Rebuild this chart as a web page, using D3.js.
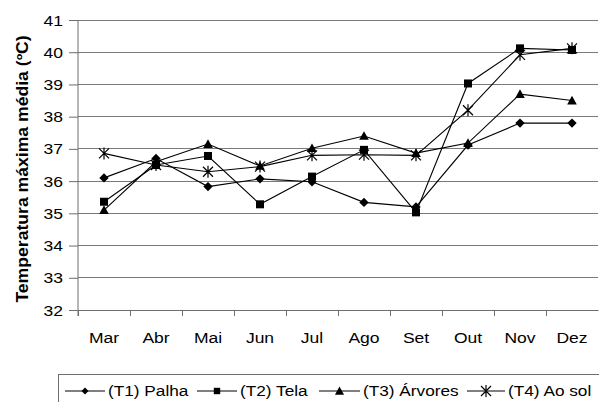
<!DOCTYPE html>
<html><head><meta charset="utf-8">
<script src="https://cdn.jsdelivr.net/npm/d3@7"></script>
<style>body{margin:0;background:#fff;}svg{display:block;font-family:"Liberation Sans",Arial,sans-serif;}</style>
</head><body>
<svg id="c" width="599" height="402"></svg>
<script>
const months = ["Mar","Abr","Mai","Jun","Jul","Ago","Set","Out","Nov","Dez"];
const t1 = [36.1,36.7,35.83,36.07,35.98,35.34,35.2,37.12,37.8,37.8];
const t2 = [35.36,36.5,36.78,35.28,36.14,36.97,35.03,39.03,40.12,40.07];
const t3 = [35.1,36.6,37.15,36.47,37.02,37.4,36.87,37.18,38.7,38.5];
const t4 = [36.86,36.5,36.29,36.45,36.8,36.82,36.8,38.2,39.92,40.12];
const seriesNames = ["(T1) Palha","(T2) Tela","(T3) Árvores","(T4) Ao sol"];
const markers = ["diamond","square","triangle","star"];
const yTicks = [32,33,34,35,36,37,38,39,40,41];
const yLabel = "Temperatura máxima média (ºC)";

const FONT = "Liberation Sans, Arial, sans-serif";
const svg = d3.select("#c");
const L=78, R=598, T=20, B=310;
const x = d3.scaleBand().domain(months).range([L,R]);
const y = d3.scaleLinear().domain([32,41]).range([B,T]);

function stretch(sel,k){
  sel.each(function(){
    const w=this.getComputedTextLength();
    d3.select(this).attr("textLength",w*k).attr("lengthAdjust","spacingAndGlyphs");
  });
}

// gridlines
svg.append("g").selectAll("line").data(yTicks.filter(d=>d>32)).join("line")
  .attr("x1",L).attr("x2",R).attr("y1",d=>y(d)).attr("y2",d=>y(d))
  .attr("stroke","#7a7a7a").attr("stroke-width",1).attr("shape-rendering","crispEdges");

// y axis
const ya = svg.append("g").attr("transform",`translate(${L},0)`)
  .call(d3.axisLeft(y).tickValues(yTicks).tickSize(9).tickPadding(6).tickFormat(d3.format("d")));
ya.select(".domain").attr("stroke","#6e6e6e").attr("d",`M0,${B+6}V${T}`);
ya.selectAll(".tick line").attr("stroke","#6e6e6e");
ya.selectAll("text").attr("font-size",14).attr("fill","#000").attr("font-family",FONT).attr("dy","0.36em");
stretch(ya.selectAll("text"),1.25);

// x axis
const xa = svg.append("g").attr("transform",`translate(0,${B})`)
  .call(d3.axisBottom(x).tickSize(0).tickPadding(23));
xa.select(".domain").attr("stroke","#6e6e6e");
xa.selectAll("text").attr("font-size",14).attr("fill","#000").attr("font-family",FONT);
stretch(xa.selectAll("text"),1.25);
svg.append("g").selectAll("line").data(months).join("line")
  .attr("x1",d=>x(d)).attr("x2",d=>x(d)).attr("y1",B).attr("y2",B+6)
  .attr("stroke","#6e6e6e").attr("shape-rendering","crispEdges");

// y label
const yl = svg.append("text").attr("transform",`translate(28,${(T+B)/2+4}) rotate(-90)`)
  .attr("text-anchor","middle").attr("font-weight","bold").attr("font-size",16).text(yLabel);
stretch(yl,1.1);

function drawMarker(g, type, cx, cy, s){
  s = s||1;
  if(type==="diamond"){
    const r=4.7*s;
    g.append("path").attr("d",`M${cx},${cy-r}L${cx+r},${cy}L${cx},${cy+r}L${cx-r},${cy}Z`).attr("fill","#000");
  } else if(type==="square"){
    const h=4*s;
    g.append("rect").attr("x",cx-h).attr("y",cy-h).attr("width",2*h).attr("height",2*h).attr("fill","#000");
  } else if(type==="triangle"){
    const r=4.8*s;
    g.append("path").attr("d",`M${cx},${cy-r}L${cx+r},${cy+r*0.8}L${cx-r},${cy+r*0.8}Z`).attr("fill","#000");
  } else {
    const r=5*s;
    g.append("path").attr("d",`M${cx-r},${cy-r}L${cx+r},${cy+r}M${cx-r},${cy+r}L${cx+r},${cy-r}M${cx},${cy-r-1}L${cx},${cy+r+1}`)
      .attr("stroke","#000").attr("stroke-width",1.2).attr("fill","none");
  }
}

const data = [t1,t2,t3,t4];
const line = d3.line().x((d,i)=>x(months[i])+x.bandwidth()/2).y(d=>y(d));
data.forEach((vals,k)=>{
  const g = svg.append("g");
  g.append("path").attr("d",line(vals)).attr("fill","none").attr("stroke","#000").attr("stroke-width",1.1);
  vals.forEach((v,i)=>drawMarker(g, markers[k], x(months[i])+x.bandwidth()/2, y(v)));
});

// legend
const lg = svg.append("g");
lg.append("rect").attr("x",58.5).attr("y",374.5).attr("width",560).attr("height",40)
  .attr("fill","#fff").attr("stroke","#6e6e6e").attr("stroke-width",1);
const lx = [65,197,319,467];
const lw = [40,40,41,38];
const ls = [0.75,0.8,0.95,1];
seriesNames.forEach((n,k)=>{
  const ly = 391;
  lg.append("line").attr("x1",lx[k]).attr("x2",lx[k]+lw[k]).attr("y1",ly).attr("y2",ly).attr("stroke","#000").attr("stroke-width",1.1);
  drawMarker(lg, markers[k], lx[k]+lw[k]/2, ly, ls[k]);
  const t = lg.append("text").attr("x",lx[k]+lw[k]+3).attr("y",ly+5).attr("font-size",14).attr("font-family",FONT).text(n);
  stretch(t,1.23);
});
</script>
</body></html>
